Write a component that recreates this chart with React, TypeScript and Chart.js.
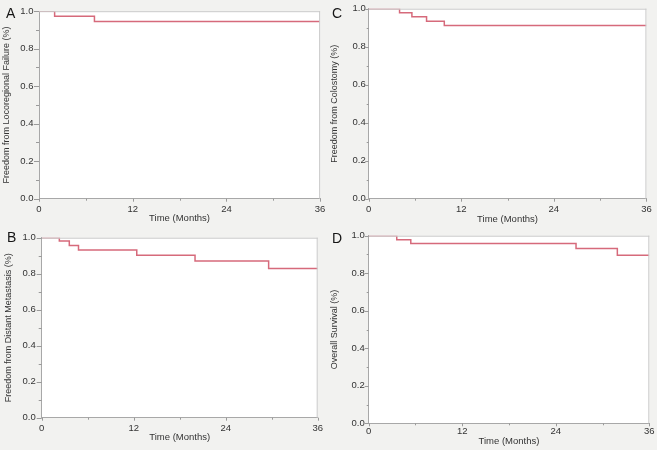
import React, { useEffect, useRef } from 'react';
import { Chart, registerables } from 'chart.js';

Chart.register(...registerables);

// ---- data ----
const timeTicks = [0, 12, 24, 36];
const timeMinorTicks = [6, 18, 30];
const survivalTicks = [0, 0.2, 0.4, 0.6, 0.8, 1.0];
const survivalMinorTicks = [0.1, 0.3, 0.5, 0.7, 0.9];

const monthsA = [0, 2.0, 7.1, 36];
const freedomLocoregional = [1, 0.973, 0.945, 0.945];

const monthsB = [0, 2.3, 3.6, 4.8, 12.4, 20.0, 29.6, 36];
const freedomDistant = [1, 0.981, 0.956, 0.931, 0.902, 0.871, 0.829, 0.829];

const monthsC = [0, 4.0, 5.6, 7.5, 9.8, 36];
const freedomColostomy = [1, 0.979, 0.958, 0.934, 0.911, 0.911];

const monthsD = [0, 3.6, 5.4, 26.6, 31.9, 36];
const overallSurvival = [1, 0.979, 0.958, 0.932, 0.896, 0.896];

const xTitle = 'Time (Months)';

// ---- layout / style ----
const FONT = '"Liberation Sans", Arial, Helvetica, sans-serif';
const TICK_SIZE = 9.5;
const TITLE_SIZE = 9;
const LINE_COLOR = '#d66a7b';
const TEXT_COLOR = '#333333';

type PanelDef = {
  letter: string;
  title: string;
  months: number[];
  values: number[];
  box: { x: number; y: number; w: number; h: number };
  plot: { l: number; r: number; t: number; b: number };
  xLabelGap: number;
  xTitleY: number;
  yTitleX: number;
  yLabelPad: number;
  tickLen: number;
  letterPos: { x: number; y: number };
};

const panels: PanelDef[] = [
  {
    letter: 'A',
    title: 'Freedom from Locoregional Failure (%)',
    months: monthsA,
    values: freedomLocoregional,
    box: { x: 0, y: 0, w: 330, h: 226 },
    plot: { l: 39, r: 321, t: 8.3, b: 198.7 },
    xLabelGap: 9.6,
    xTitleY: 219,
    yTitleX: 7,
    yLabelPad: 5.5,
    tickLen: 5,
    letterPos: { x: 6, y: 6 },
  },
  {
    letter: 'C',
    title: 'Freedom from Colostomy (%)',
    months: monthsC,
    values: freedomColostomy,
    box: { x: 327, y: 0, w: 330, h: 226 },
    plot: { l: 368.7, r: 649.3, t: 8.3, b: 198.7 },
    xLabelGap: 10.3,
    xTitleY: 219.5,
    yTitleX: 334.5,
    yLabelPad: 3,
    tickLen: 3.5,
    letterPos: { x: 332, y: 6 },
  },
  {
    letter: 'B',
    title: 'Freedom from Distant Metastasis (%)',
    months: monthsB,
    values: freedomDistant,
    box: { x: 0, y: 226, w: 330, h: 224 },
    plot: { l: 41.7, r: 317.7, t: 233.3, b: 417.7 },
    xLabelGap: 10,
    xTitleY: 437.5,
    yTitleX: 9,
    yLabelPad: 6,
    tickLen: 5,
    letterPos: { x: 7, y: 230 },
  },
  {
    letter: 'D',
    title: 'Overall Survival (%)',
    months: monthsD,
    values: overallSurvival,
    box: { x: 327, y: 226, w: 330, h: 224 },
    plot: { l: 368.7, r: 649.3, t: 233.3, b: 423.3 },
    xLabelGap: 7,
    xTitleY: 441.5,
    yTitleX: 334.5,
    yLabelPad: 4,
    tickLen: 4,
    letterPos: { x: 332, y: 231 },
  },
];

function makeFramePlugin(p: PanelDef) {
  return {
    id: 'frame' + p.letter,
    beforeDraw(chart: any) {
      const { ctx, chartArea: a } = chart;
      ctx.save();
      ctx.fillStyle = '#ffffff';
      ctx.fillRect(a.left, a.top, a.right - a.left, a.bottom - a.top);
      ctx.restore();
    },
    afterDraw(chart: any) {
      const { ctx, chartArea: a, scales } = chart;
      ctx.save();
      // top & right frame
      ctx.strokeStyle = '#c9c9c9';
      ctx.lineWidth = 1;
      ctx.beginPath();
      ctx.moveTo(a.left, a.top + 0.5);
      ctx.lineTo(a.right, a.top + 0.5);
      ctx.moveTo(a.right - 0.5, a.top);
      ctx.lineTo(a.right - 0.5, a.bottom);
      ctx.stroke();
      // tick marks
      ctx.strokeStyle = '#9a9a9a';
      ctx.beginPath();
      const y = scales.y;
      const x = scales.x;
      const major = p.tickLen;
      const minor = Math.max(2, p.tickLen - 2);
      survivalTicks.forEach((v) => {
        const py = Math.round(y.getPixelForValue(v)) + 0.5;
        ctx.moveTo(a.left - major, py);
        ctx.lineTo(a.left, py);
      });
      survivalMinorTicks.forEach((v) => {
        const py = Math.round(y.getPixelForValue(v)) + 0.5;
        ctx.moveTo(a.left - minor, py);
        ctx.lineTo(a.left, py);
      });
      timeTicks.forEach((v) => {
        const px = Math.round(x.getPixelForValue(v)) + 0.5;
        ctx.moveTo(px, a.bottom);
        ctx.lineTo(px, a.bottom + 3);
      });
      timeMinorTicks.forEach((v) => {
        const px = Math.round(x.getPixelForValue(v)) + 0.5;
        ctx.moveTo(px, a.bottom);
        ctx.lineTo(px, a.bottom + 2);
      });
      ctx.stroke();
      ctx.restore();
    },
  };
}

function makeConfig(p: PanelDef): any {
  const lh = TITLE_SIZE * 1.2;
  const tickFont = { family: FONT, size: TICK_SIZE };
  const titleFont = { family: FONT, size: TITLE_SIZE };
  const xAxisHeight = p.xTitleY + lh / 2 - p.plot.b;
  return {
    type: 'scatter',
    data: {
      datasets: [
        {
          data: p.months.map((m, i) => ({ x: m, y: p.values[i] })),
          showLine: true,
          stepped: 'before',
          borderColor: LINE_COLOR,
          borderWidth: 1.5,
          pointRadius: 0,
          fill: false,
        },
      ],
    },
    options: {
      animation: false,
      responsive: false,
      maintainAspectRatio: false,
      devicePixelRatio: 1,
      events: [],
      layout: {
        padding: {
          left: 0,
          top: p.plot.t - p.box.y,
          right: p.box.x + p.box.w - p.plot.r,
          bottom: p.box.y + p.box.h - (p.xTitleY + lh / 2),
        },
      },
      plugins: {
        legend: { display: false },
        tooltip: { enabled: false },
      },
      scales: {
        x: {
          type: 'linear',
          min: 0,
          max: 36,
          afterBuildTicks: (s: any) => {
            s.ticks = timeTicks.map((v) => ({ value: v }));
          },
          grid: { display: false, drawTicks: false },
          border: { display: true, color: '#a8a8a8', width: 1 },
          ticks: {
            padding: p.xLabelGap - 5,
            font: tickFont,
            color: TEXT_COLOR,
            maxRotation: 0,
            autoSkip: false,
            callback: (v: number) => String(v),
          },
          title: {
            display: true,
            text: xTitle,
            font: { family: FONT, size: TICK_SIZE },
            color: TEXT_COLOR,
            padding: { top: 0, bottom: 0 },
          },
          afterFit: (s: any) => {
            s.height = xAxisHeight;
          },
        },
        y: {
          type: 'linear',
          min: 0,
          max: 1,
          afterBuildTicks: (s: any) => {
            s.ticks = survivalTicks.map((v) => ({ value: v }));
          },
          grid: { display: false, drawTicks: false },
          border: { display: true, color: '#a8a8a8', width: 1 },
          ticks: {
            padding: p.yLabelPad,
            font: tickFont,
            color: TEXT_COLOR,
            autoSkip: false,
            callback: (v: number) => Number(v).toFixed(1),
          },
          title: {
            display: true,
            text: p.title,
            font: titleFont,
            color: TEXT_COLOR,
            padding: { top: p.yTitleX - p.box.x - lh / 2, bottom: 0 },
          },
          afterFit: (s: any) => {
            s.width = p.plot.l - p.box.x;
          },
        },
      },
    },
    plugins: [makeFramePlugin(p)],
  };
}

function Panel({ p }: { p: PanelDef }) {
  const ref = useRef<HTMLCanvasElement | null>(null);
  useEffect(() => {
    if (!ref.current) return;
    const chart = new Chart(ref.current, makeConfig(p));
    return () => chart.destroy();
  }, [p]);
  return (
    <>
      <canvas
        ref={ref}
        width={p.box.w}
        height={p.box.h}
        style={{
          position: 'absolute',
          left: p.box.x,
          top: p.box.y,
          width: p.box.w,
          height: p.box.h,
        }}
      />
      <div
        style={{
          position: 'absolute',
          left: p.letterPos.x,
          top: p.letterPos.y,
          fontFamily: FONT,
          fontSize: 14,
          lineHeight: '14px',
          color: '#151515',
          pointerEvents: 'none',
        }}
      >
        {p.letter}
      </div>
    </>
  );
}

export default function App() {
  return (
    <div
      style={{
        position: 'absolute',
        left: 0,
        top: 0,
        width: 657,
        height: 450,
        background: '#f2f2f0',
        overflow: 'hidden',
      }}
    >
      {panels.map((p) => (
        <Panel key={p.letter} p={p} />
      ))}
    </div>
  );
}
